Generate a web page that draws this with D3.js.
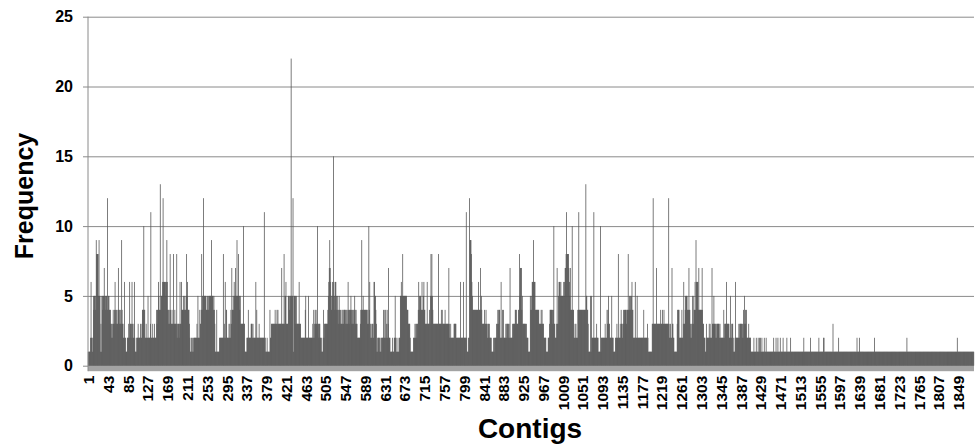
<!DOCTYPE html>
<html>
<head>
<meta charset="utf-8">
<script src="https://cdn.jsdelivr.net/npm/d3@7"></script>
<style>
  html, body { margin: 0; padding: 0; background: #ffffff; }
  svg { display: block; }
</style>
</head>
<body>
<svg id="chart" width="976" height="448"></svg>
<script>
// Frequency per contig (contigs 1..1882), in blocks of 210
const block01 = [
  1,1,1,1,1,2,6,2,2,1,2,5,4,5,5,5,4,9,8,8,8,8,5,9,5,5,1,3,1,5,5,4,5,5,7,5,4,5,5,5,4,12,
  4,5,5,4,4,4,3,3,2,2,3,4,3,3,4,6,4,3,4,3,3,4,7,4,4,3,3,4,3,9,4,3,3,2,2,6,2,2,1,1,1,2,
  2,2,3,2,6,3,3,2,3,6,3,2,2,3,6,2,1,1,1,2,2,2,3,2,2,2,2,3,2,2,3,4,4,4,10,4,4,2,2,3,2,2,
  2,5,2,2,2,2,3,11,2,2,2,3,2,2,2,3,2,2,2,4,3,4,4,6,5,4,4,13,4,5,5,5,6,12,6,6,6,6,6,5,6,9,
  6,4,4,3,4,3,8,4,3,3,4,3,3,8,3,3,4,3,3,3,8,2,3,3,3,2,3,6,3,3,6,4,4,4,5,4,4,5,4,4,5,8
];
const block02 = [
  5,6,4,4,4,3,2,1,1,2,1,2,1,1,2,2,2,2,2,2,2,3,2,5,2,2,2,4,3,3,4,8,4,5,5,12,5,5,5,5,5,4,
  4,5,4,5,4,5,5,5,5,5,9,5,5,5,4,5,4,3,1,1,1,4,1,1,1,1,1,2,2,2,2,2,2,2,2,8,2,3,2,6,2,4,
  4,2,2,2,2,3,2,3,2,4,3,7,4,4,5,4,6,5,5,7,5,5,9,5,5,8,5,5,4,5,3,3,3,3,3,3,10,3,3,1,1,1,
  1,2,2,2,4,2,2,2,2,2,3,3,3,2,3,2,2,2,2,2,6,2,4,2,2,2,2,3,2,2,2,2,2,2,2,2,2,2,11,2,2,1,
  1,1,2,1,1,1,1,1,4,2,2,3,3,3,3,3,3,3,3,4,3,3,3,4,3,4,3,3,3,3,3,3,3,7,3,3,3,3,8,3,5,5
];
const block03 = [
  6,3,3,3,3,5,5,5,4,5,5,22,5,5,5,12,1,5,5,5,5,3,5,3,3,3,3,3,6,3,3,3,2,2,2,2,2,2,2,2,2,4,
  5,2,2,2,2,2,5,2,2,2,2,2,2,2,2,3,2,4,2,3,4,3,4,3,3,10,3,3,2,3,3,2,2,2,1,1,1,2,4,2,3,3,
  3,3,3,3,3,4,5,6,7,9,7,6,5,4,5,6,5,15,6,5,4,6,6,5,4,5,4,3,4,5,4,3,4,3,3,4,3,4,3,4,4,4,
  4,3,4,3,4,3,6,4,3,4,4,4,5,4,3,4,3,4,3,4,5,4,3,4,3,3,2,2,2,2,2,2,3,4,4,9,4,4,5,4,4,4,
  4,4,4,4,4,3,4,3,10,4,6,3,2,3,2,2,3,3,2,6,6,5,5,4,3,1,1,2,2,2,1,2,2,1,1,2,2,2,2,4,2,2
];
const block04 = [
  4,2,4,2,3,4,2,3,7,2,2,2,1,1,1,1,2,1,1,1,2,2,5,2,2,1,1,1,2,1,1,2,2,5,5,6,5,5,8,5,5,5,
  5,5,5,5,5,4,4,4,3,3,3,3,2,1,1,1,1,1,1,2,2,2,3,2,3,3,2,3,3,4,6,4,5,5,5,4,4,6,4,4,5,6,
  4,4,3,3,3,3,6,3,3,3,3,4,3,5,8,5,8,5,4,3,3,3,3,3,3,3,3,3,3,3,8,3,3,3,3,3,4,3,4,3,3,3,
  3,3,4,3,3,3,3,3,3,3,7,3,2,2,3,2,2,2,2,2,2,3,3,3,3,3,2,2,2,2,2,2,2,2,2,6,2,2,2,2,2,6,
  2,2,2,2,2,11,2,1,1,1,2,2,12,9,9,9,8,6,5,4,4,4,4,4,4,4,4,4,4,4,4,6,4,4,4,7,4,5,4,3,3,3
];
const block05 = [
  3,3,4,3,3,4,3,3,2,3,3,2,3,2,2,2,2,1,1,1,1,2,1,2,2,2,2,3,2,3,4,3,4,4,4,2,2,6,2,2,4,2,
  4,2,2,2,2,3,2,3,3,3,2,3,3,2,7,2,2,2,2,3,2,3,3,3,3,4,4,3,4,3,3,3,4,4,8,5,7,7,7,4,5,3,
  3,3,3,3,3,3,2,3,2,2,2,1,1,1,1,5,4,5,4,6,6,6,9,6,6,6,4,4,4,4,4,4,4,4,3,3,3,3,4,3,4,3,
  3,3,2,2,2,2,2,1,1,1,1,2,2,2,3,4,4,4,4,4,4,3,4,10,3,3,2,2,2,3,7,3,3,5,6,6,6,5,6,5,5,5,
  5,5,6,5,6,7,7,8,11,8,8,8,8,7,6,5,7,4,4,4,10,4,4,4,2,2,3,2,3,2,2,2,4,4,11,4,4,4,4,4,4,4
];
const block06 = [
  4,4,4,4,4,4,4,13,5,5,4,4,3,1,1,1,1,5,1,5,2,2,2,2,11,2,2,2,2,2,3,2,2,2,1,1,1,1,10,1,2,2,
  2,2,2,2,2,2,3,2,2,2,4,3,4,5,3,3,2,2,2,2,5,2,2,2,1,1,1,1,2,2,2,3,2,2,8,2,2,2,3,2,4,3,
  3,2,3,4,3,4,4,4,4,3,4,4,4,8,4,4,5,4,5,4,5,6,4,4,2,2,2,2,6,2,2,2,5,2,2,2,2,2,2,2,2,2,
  2,2,2,2,4,2,2,2,2,2,2,2,3,2,1,1,1,1,1,1,1,1,3,3,12,3,3,3,3,3,3,7,3,3,3,3,3,3,3,3,4,3,
  3,3,4,3,3,4,3,3,3,3,3,3,3,3,3,12,3,2,2,3,2,2,7,3,3,2,2,1,1,1,1,1,1,3,4,4,4,4,2,2,2,2
];
const block07 = [
  2,4,2,2,3,6,3,3,4,5,5,5,5,4,4,4,7,4,4,3,2,2,3,3,5,5,3,4,4,6,4,9,6,6,6,6,4,7,4,4,4,4,
  4,4,7,4,3,3,2,2,2,1,1,3,2,2,2,2,2,3,2,3,2,2,2,7,3,3,3,5,3,3,3,2,3,2,3,3,3,3,3,2,3,2,
  2,2,2,2,2,2,4,2,3,3,3,3,6,3,3,3,3,3,2,2,5,2,2,3,3,3,2,1,1,1,2,6,2,2,2,2,2,2,3,2,3,3,
  3,3,3,2,3,2,4,3,5,3,4,3,4,2,2,2,2,3,2,2,2,2,1,1,1,1,1,1,2,1,1,1,1,2,1,1,1,2,1,1,2,1,
  2,1,1,2,1,1,1,1,2,1,1,1,2,1,1,1,1,1,1,1,1,1,1,1,1,1,1,1,2,1,1,1,1,2,1,1,1,2,1,1,1,1
];
const block08 = [
  2,1,1,1,1,1,2,1,1,1,1,1,1,1,2,1,1,1,1,1,1,1,2,1,1,1,1,1,1,1,1,1,1,1,1,1,1,1,1,1,1,1,
  1,1,1,1,1,1,1,1,2,1,1,1,1,1,1,1,1,1,1,1,1,1,2,1,1,1,1,1,1,1,1,1,1,1,1,1,1,1,1,1,2,1,
  1,1,1,1,1,1,1,1,2,2,1,1,1,1,1,1,1,1,1,1,1,1,1,1,1,1,1,1,3,1,1,1,1,1,1,1,1,1,1,1,2,1,
  1,1,1,1,1,1,1,1,1,1,1,1,1,1,1,1,1,1,1,1,1,1,1,1,1,1,1,1,1,1,1,1,1,1,1,1,1,2,1,1,1,1,
  2,1,1,1,1,1,1,1,1,1,1,1,1,1,1,1,1,1,1,1,1,1,1,1,1,1,1,1,1,1,1,1,2,1,1,1,1,1,1,1,1,1
];
const block09 = [
  1,1,1,1,1,1,1,1,1,1,1,1,1,1,1,1,1,1,1,1,1,1,1,1,1,1,1,1,1,1,1,1,1,1,1,1,1,1,1,1,1,1,
  1,1,1,1,1,1,1,1,1,1,1,1,1,1,1,1,1,2,1,1,1,1,1,1,1,1,1,1,1,1,1,1,1,1,1,1,1,1,1,1,1,1,
  1,1,1,1,1,1,1,1,1,1,1,1,1,1,1,1,1,1,1,1,1,1,1,1,1,1,1,1,1,1,1,1,1,1,1,1,1,1,1,1,1,1,
  1,1,1,1,1,1,1,1,1,1,1,1,1,1,1,1,1,1,1,1,1,1,1,1,1,1,1,1,1,1,1,1,1,1,1,1,1,1,1,1,2,1,
  1,1,1,1,1,1,1,1,1,1,1,1,1,1,1,1,1,1,1,1,1,1,1,1,1,1,1,1,1,1,1,1,1,1
];

const xTickLabels = [1,43,85,127,169,211,253,295,337,379,421,463,505,547,589,631,673,715,757,799,
  841,883,925,967,1009,1051,1093,1135,1177,1219,1261,1303,1345,1387,1429,1471,1513,1555,1597,
  1639,1681,1723,1765,1807,1849];
const yTickValues = [0,5,10,15,20,25];
const xTitle = "Contigs";
const yTitle = "Frequency";

const frequencies = [].concat(block01, block02, block03, block04, block05, block06, block07, block08, block09);
const contigs = frequencies.map((_, i) => i + 1);
const data = contigs.map((c, i) => ({ contig: c, value: frequencies[i] }));

const svg = d3.select("#chart");
const plotLeft = 88, plotRight = 974, plotTop = 16.7, plotBottom = 365.7;
const fontFamily = "'Liberation Sans', Arial, sans-serif";

const x = d3.scaleBand().domain(contigs).range([plotLeft, plotRight]).padding(0);
const y = d3.scaleLinear().domain([0, 25]).range([plotBottom, plotTop]);

// gridlines + ticks on the value axis
const yAxis = d3.axisLeft(y).tickValues(yTickValues).tickSize(-(plotRight - plotLeft)).tickSizeOuter(0).tickPadding(15);
const gy = svg.append("g").attr("transform", `translate(${plotLeft},0)`).call(yAxis);
gy.select(".domain").remove();
gy.selectAll(".tick line").attr("stroke", "#8a8a8a").attr("stroke-width", 1).attr("x1", -5);
gy.selectAll(".tick text")
  .attr("font-family", fontFamily)
  .attr("font-weight", "bold").attr("font-size", 16).attr("fill", "#000");

// floor band under the bars
svg.append("rect").attr("x", plotLeft).attr("y", plotBottom).attr("width", plotRight - plotLeft).attr("height", 5.5)
  .attr("fill", "#a3a3a3");

// bars (slight overlap so neighbouring sub-pixel bars close up into a solid fill)
const overlap = 0.3;
svg.append("g").selectAll("rect").data(data).join("rect")
  .attr("x", d => x(d.contig) - overlap / 2)
  .attr("width", x.bandwidth() + overlap)
  .attr("y", d => y(d.value))
  .attr("height", d => y(0) - y(d.value))
  .attr("fill", "#555555");

// left axis line
svg.append("line").attr("x1", plotLeft).attr("x2", plotLeft).attr("y1", plotTop).attr("y2", plotBottom + 5.5)
  .attr("stroke", "#8a8a8a").attr("stroke-width", 1);

// category axis labels
const xAxis = d3.axisBottom(x).tickValues(xTickLabels).tickSize(0).tickPadding(0);
const gx = svg.append("g").attr("transform", `translate(0,${plotBottom + 10})`).call(xAxis);
gx.select(".domain").remove();
gx.selectAll(".tick text")
  .attr("font-family", fontFamily)
  .attr("font-weight", "bold").attr("font-size", 15.5).attr("fill", "#000")
  .attr("text-anchor", "end")
  .attr("transform", "rotate(-90)")
  .attr("x", 0).attr("y", 0).attr("dy", "0.36em");

// axis titles
svg.append("text").attr("x", 530).attr("y", 438).attr("text-anchor", "middle")
  .attr("font-family", fontFamily).attr("font-weight", "bold")
  .attr("font-size", 28).attr("fill", "#000").text(xTitle);
svg.append("text").attr("transform", "translate(33,196) rotate(-90)").attr("text-anchor", "middle")
  .attr("font-family", fontFamily).attr("font-weight", "bold")
  .attr("font-size", 25).attr("fill", "#000").text(yTitle);
</script>
</body>
</html>
